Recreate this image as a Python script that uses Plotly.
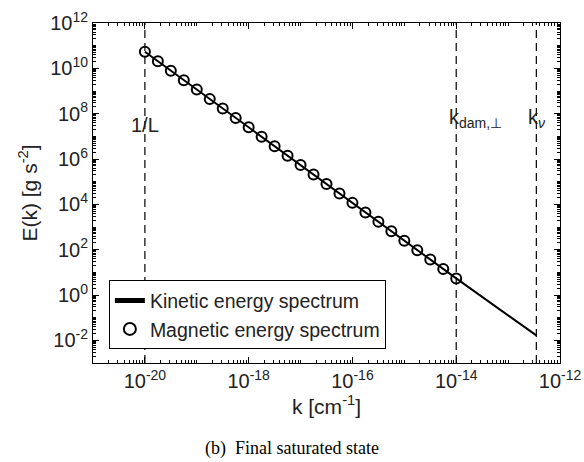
import plotly.graph_objects as go

# Magnetic energy spectrum (markers)
mag_k = [1e-20, 1.778e-20, 3.162e-20, 5.623e-20,
         1e-19, 1.778e-19, 3.162e-19, 5.623e-19,
         1e-18, 1.778e-18, 3.162e-18, 5.623e-18,
         1e-17, 1.778e-17, 3.162e-17, 5.623e-17,
         1e-16, 1.778e-16, 3.162e-16, 5.623e-16,
         1e-15, 1.778e-15, 3.162e-15, 5.623e-15,
         1e-14]
mag_E = [5.4e10, 2.06e10, 7.9e9, 3.0e9,
         1.16e9, 4.4e8, 1.7e8, 6.5e7,
         2.5e7, 9.5e6, 3.65e6, 1.4e6,
         5.4e5, 2.06e5, 7.9e4, 3.0e4,
         1.16e4, 4.4e3, 1.7e3, 6.5e2,
         2.5e2, 95, 36.5, 14,
         5.4]

# Kinetic energy spectrum (line)
kin_k = [1e-20, 1e-18, 1e-16, 1e-14, 3.5e-13]
kin_E = [5.4e10, 2.5e7, 1.16e4, 5.4, 0.0165]

# Characteristic scales (vertical dashed lines)
vline_k = [1e-20, 1e-14, 3.5e-13]
vline_labels = ["1/L", "k<sub>dam,⊥</sub>", "k<sub><i>ν</i></sub>"]

x_tick_exp = [-20, -18, -16, -14, -12]
y_tick_exp = [-2, 0, 2, 4, 6, 8, 10, 12]

x_range = [-21, -12]
y_range = [-3, 12]

FONT = "Liberation Sans, Arial, sans-serif"

fig = go.Figure()

for kv in vline_k:
    fig.add_trace(go.Scatter(
        x=[kv, kv], y=[10 ** y_range[0], 10 ** y_range[1]], mode="lines",
        line=dict(color="black", width=1.2, dash="8px,5px"),
        showlegend=False, hoverinfo="skip"))

fig.add_trace(go.Scatter(
    x=kin_k, y=kin_E, mode="lines", name="Kinetic energy spectrum",
    line=dict(color="black", width=2)))
fig.add_trace(go.Scatter(
    x=mag_k, y=mag_E, mode="markers", name="Magnetic energy spectrum",
    marker=dict(symbol="circle-open", size=10, color="black",
                line=dict(width=2, color="black"))))

def minor_vals(lo, hi):
    vals = []
    for e in range(lo, hi):
        for m in range(1, 10):
            vals.append(m * 10.0 ** e)
    vals.append(10.0 ** hi)
    return vals

axis_common = dict(
    type="log", showline=True, linecolor="black", linewidth=1,
    mirror="allticks", ticks="inside", ticklen=6, tickcolor="black",
    showgrid=False, zeroline=False, automargin=False,
    tickfont=dict(family=FONT, size=20, color="#222"),
)

fig.update_xaxes(
    **axis_common, range=x_range,
    tickmode="array",
    tickvals=[10.0 ** e for e in x_tick_exp],
    ticktext=[f"10<sup>{e}</sup>" for e in x_tick_exp],
    minor=dict(tickmode="array", tickvals=minor_vals(x_range[0], x_range[1]),
               ticks="inside", ticklen=3, tickcolor="black"),
    title=dict(text="k [cm<sup>-1</sup>]", font=dict(family=FONT, size=21, color="#222"),
               standoff=8),
)
fig.update_yaxes(
    **axis_common, range=y_range,
    tickmode="array",
    tickvals=[10.0 ** e for e in y_tick_exp],
    ticktext=[f"10<sup>{e}</sup>" for e in y_tick_exp],
    minor=dict(tickmode="array", tickvals=minor_vals(y_range[0], y_range[1]),
               ticks="inside", ticklen=3, tickcolor="black"),
    title=dict(text="E(k) [g s<sup>-2</sup>]", font=dict(family=FONT, size=21, color="#222"),
               standoff=6),
)

ann_pos = [(-20, 7.5, "center"), (-14.17, 7.8, "left"), (-12.66, 7.8, "left")]
for (ax_, ay_, anc), txt in zip(ann_pos, vline_labels):
    fig.add_annotation(x=ax_, y=ay_, xref="x", yref="y", text=txt, showarrow=False,
                       xanchor=anc, yanchor="middle",
                       font=dict(family=FONT, size=20, color="#222"))

fig.add_annotation(x=0.426, y=-0.25, xref="paper", yref="paper", xanchor="center",
                   yanchor="middle", showarrow=False,
                   text="(b)  Final saturated state",
                   font=dict(family="Liberation Serif, Times New Roman, serif", size=18,
                             color="black"))

fig.update_layout(
    width=584, height=462,
    margin=dict(l=93, r=24, t=23, b=99),
    paper_bgcolor="white", plot_bgcolor="white",
    showlegend=True,
    legend=dict(x=0.034, y=0.04, xanchor="left", yanchor="bottom",
                bgcolor="white", bordercolor="black", borderwidth=1,
                font=dict(family=FONT, size=19.5, color="#222"),
                tracegroupgap=0, itemsizing="constant",
                traceorder="normal"),
)

fig.write_html("out.html", config={"displayModeBar": False},
               post_script="document.body.style.margin='0';")
